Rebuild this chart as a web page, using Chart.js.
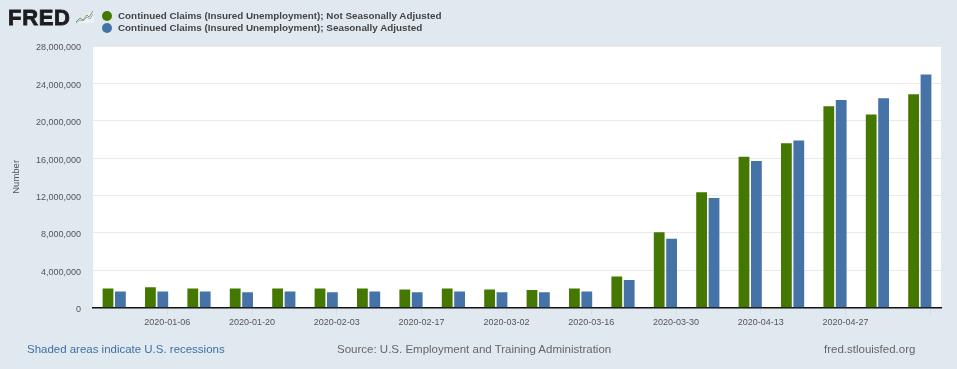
<!DOCTYPE html>
<html>
<head>
<meta charset="utf-8">
<title>Continued Claims</title>
<script src="https://cdn.jsdelivr.net/npm/chart.js@4"></script>
<style>
    html, body { margin: 0; padding: 0; background: #e1e9f0; overflow: hidden; }
    #wrap { position: relative; width: 957px; height: 369px; font-family: "Liberation Sans", Arial, sans-serif; }
    canvas { position: absolute; left: 0; top: 0; }
    .txt { position: absolute; white-space: nowrap; }
    #logo { left: 8px; top: 5px; font-size: 22px; line-height: 26px; font-weight: bold; color: #1d1d1f; -webkit-text-stroke: 0.8px #1d1d1f; letter-spacing: 0.7px; }
    #icon { position: absolute; left: 75px; top: 9px; }
    .legend-row { position: absolute; left: 102px; height: 13px; font-size: 9.85px; line-height: 13px; font-weight: bold; color: #444; white-space: nowrap; }
    .legend-row i { display: inline-block; width: 10px; height: 10px; border-radius: 50%; margin-right: 6px; vertical-align: -1.5px; }
    #recess { left: 27px; top: 342px; font-size: 11.47px; line-height: 15px; color: #3f6ea6; }
    #source { left: 337px; top: 342px; font-size: 11.5px; line-height: 15px; color: #666; }
    #site { left: 824px; top: 342px; font-size: 11.5px; line-height: 15px; color: #666; }
</style>
</head>
<body>
<div id="wrap">
    <canvas id="fredChart" width="957" height="369"></canvas>
    <div class="txt" id="logo">FRED</div>
    <svg id="icon" width="19" height="16" viewBox="0 0 19 16">
        <path d="M0 14 L19 14 L19 1 Z" fill="#eef2f5"/>
        <path d="M1 13 L5 9 L8 11 L12 6 L14 8 L18 2" fill="none" stroke="#7f9a5c" stroke-width="1"/>
        <path d="M1 14 L5 11 L8 12 L12 8 L15 10 L18 5" fill="none" stroke="#8fa6bd" stroke-width="1"/>
    </svg>
    <div id="legend"></div>
    <div class="txt" id="recess">Shaded areas indicate U.S. recessions</div>
    <div class="txt" id="source">Source: U.S. Employment and Training Administration</div>
    <div class="txt" id="site">fred.stlouisfed.org</div>
</div>
<script>
const weeks = ["2019-12-30", "2020-01-06", "2020-01-13", "2020-01-20", "2020-01-27", "2020-02-03", "2020-02-10",
    "2020-02-17", "2020-02-24", "2020-03-02", "2020-03-09", "2020-03-16", "2020-03-23", "2020-03-30",
    "2020-04-06", "2020-04-13", "2020-04-20", "2020-04-27", "2020-05-04", "2020-05-11"];
const notAdjusted = [2050000, 2200000, 2050000, 2050000, 2050000, 2050000, 2050000, 1950000, 2050000, 1950000,
    1900000, 2050000, 3330000, 8070000, 12340000, 16150000, 17600000, 21560000, 20680000, 22850000];
const adjusted = [1720000, 1720000, 1720000, 1650000, 1720000, 1650000, 1720000, 1650000, 1720000, 1650000,
    1650000, 1720000, 2970000, 7380000, 11740000, 15700000, 17900000, 22230000, 22400000, 24950000];

const seriesNames = ["Continued Claims (Insured Unemployment); Not Seasonally Adjusted",
    "Continued Claims (Insured Unemployment); Seasonally Adjusted"];
const seriesColours = ["#457800", "#4572a7"];

// every second week gets a label, the last tick stays blank like in the original
const labelledWeeks = ["2020-01-06", "2020-01-20", "2020-02-03", "2020-02-17", "2020-03-02", "2020-03-16",
    "2020-03-30", "2020-04-13", "2020-04-27", ""];
const yTicks = [0, 4000000, 8000000, 12000000, 16000000, 20000000, 24000000, 28000000];

// white plot background, the page itself stays FRED blue-grey
const plotBackground = {
    id: "plotBackground",
    beforeDraw(chart) {
        const { ctx, chartArea: a } = chart;
        ctx.save();
        ctx.fillStyle = "#ffffff";
        ctx.fillRect(a.left, a.top, a.right - a.left, a.bottom - a.top);
        ctx.restore();
    }
};

const tickFont = { family: "'Liberation Sans', Arial, sans-serif", size: 9 };

new Chart(document.getElementById("fredChart").getContext("2d"), {
    type: "bar",
    data: {
        labels: weeks,
        datasets: [
            { label: seriesNames[0], data: notAdjusted, backgroundColor: seriesColours[0], xAxisID: "bands" },
            { label: seriesNames[1], data: adjusted, backgroundColor: seriesColours[1], xAxisID: "bands" }
        ]
    },
    options: {
        responsive: false,
        animation: false,
        layout: { padding: { top: 46, right: 16, bottom: 0, left: 0 } },
        datasets: { bar: { categoryPercentage: 0.585, barPercentage: 0.87 } },
        plugins: { legend: { display: false }, tooltip: { enabled: false } },
        scales: {
            // the bars sit on this one, it is never shown
            bands: { type: "category", display: false, offset: true },
            // FRED date ticks land a quarter band right of the bar groups
            x: {
                type: "linear",
                position: "bottom",
                bounds: "data",
                offset: false,
                min: -0.75,
                max: 19.25,
                afterBuildTicks(axis) {
                    axis.ticks = labelledWeeks.map((week, i) => ({ value: 2 * i + 1 }));
                },
                afterFit(axis) { axis.height = 61.3; },
                border: { color: "#111111", width: 1.5 },
                grid: { offset: false, drawOnChartArea: false, color: "#d5dce3", tickLength: 7 },
                ticks: {
                    autoSkip: false,
                    maxRotation: 0,
                    padding: 2,
                    color: "#555555",
                    font: tickFont,
                    callback: (value) => labelledWeeks[(value - 1) / 2]
                }
            },
            y: {
                min: 0,
                max: 28000000,
                afterBuildTicks(axis) {
                    axis.ticks = yTicks.map(value => ({ value }));
                },
                afterFit(axis) { axis.width = 93; },
                border: { display: false },
                grid: { color: "#e9e9e9", drawTicks: false },
                title: { display: true, text: "Number", color: "#555555", font: { ...tickFont, size: 9.5 }, padding: { top: 11, bottom: 0 } },
                ticks: {
                    padding: 12,
                    labelOffset: 2,
                    color: "#555555",
                    font: tickFont,
                    callback: (value) => value.toLocaleString("en-US")
                }
            }
        }
    },
    plugins: [plotBackground]
});

// legend rows next to the logo
seriesNames.forEach((name, i) => {
    const row = document.createElement("div");
    row.className = "legend-row";
    row.style.top = (9 + i * 12) + "px";
    const dot = document.createElement("i");
    dot.style.background = seriesColours[i];
    row.append(dot, name);
    document.getElementById("legend").append(row);
});
</script>
</body>
</html>
